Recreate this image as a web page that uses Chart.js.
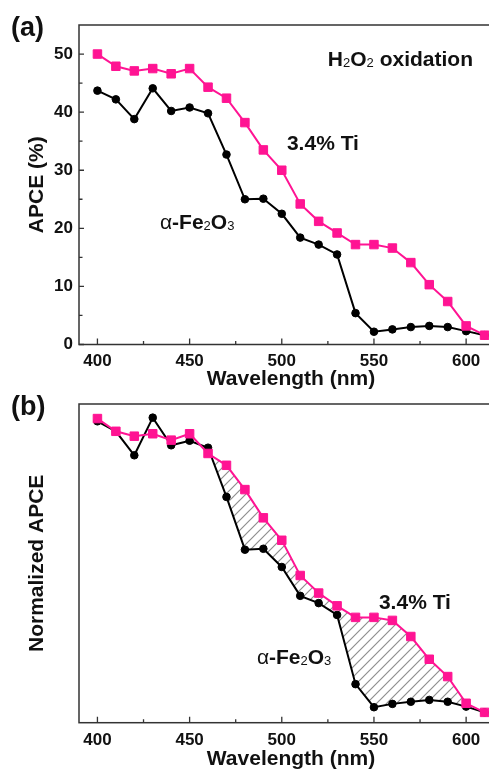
<!DOCTYPE html>
<html>
<head>
<meta charset="utf-8">
<script src="https://cdn.jsdelivr.net/npm/chart.js@4.4.0/dist/chart.umd.min.js"></script>
<style>
body{margin:0;background:#fff;overflow:hidden;width:489px;height:770px;position:relative}
canvas{position:absolute;left:0}
#chartA{top:0}
#chartB{top:390px}
</style>
</head>
<body>
<canvas id="chartA" width="512" height="390"></canvas>
<canvas id="chartB" width="512" height="380"></canvas>
<script>
// wavelength (nm)
const wavelengths = [400,410,420,430,440,450,460,470,480,490,500,510,520,530,540,550,560,570,580,590,600,610];

// (a) APCE in %
const apceTi = [50.0,47.9,47.1,47.5,46.6,47.5,44.3,42.4,38.2,33.5,30.0,24.2,21.2,19.2,17.2,17.2,16.6,14.1,10.3,7.4,3.2,1.6];
const apceFe = [43.7,42.2,38.8,44.1,40.2,40.8,39.8,32.7,25.0,25.1,22.5,18.4,17.2,15.5,5.4,2.2,2.6,3.0,3.2,3.0,2.3,1.6];

// (b) normalized APCE
const normTi = [1.002,0.960,0.944,0.952,0.931,0.952,0.887,0.848,0.768,0.675,0.601,0.485,0.427,0.385,0.347,0.347,0.337,0.284,0.209,0.152,0.064,0.034];
const normFe = [0.993,0.960,0.881,1.005,0.914,0.929,0.906,0.744,0.570,0.573,0.513,0.418,0.394,0.355,0.127,0.051,0.062,0.069,0.075,0.069,0.053,0.034];

// ticks
const xTicks = [400,450,500,550,600];
const xMinorTicks = [425,475,525,575];
const yTicksA = [0,10,20,30,40,50];
const yMinorTicksA = [5,15,25,35,45];

// hatched range in (b)
const hatchFrom = 460;
const hatchTo = 600;

const PINK = 'rgb(255,20,147)';
const FONT = '"Liberation Sans", Arial, Helvetica, sans-serif';

// text labels: [x, y] in data units, parts: b = bold, s = subscript, r = regular
const labelsA = [
  {x: 525, y: 48.0, parts: [['H','b'],['2','s'],['O','b'],['2','s'],[' oxidation','b']]},
  {x: 502.8, y: 33.4, parts: [['3.4% Ti','b']]},
  {x: 433.9, y: 19.8, parts: [['\u03b1','r'],['-Fe','b'],['2','s'],['O','b'],['3','s']]}
];
const labelsB = [
  {x: 552.7, y: 0.375, parts: [['3.4% Ti','b']]},
  {x: 486.5, y: 0.194, parts: [['\u03b1','r'],['-Fe','b'],['2','s'],['O','b'],['3','s']]}
];

function toPoints(ys) {
  return wavelengths.map((w, i) => ({x: w, y: ys[i]}));
}

function makeHatch() {
  const s = 10;
  const c = document.createElement('canvas');
  c.width = s; c.height = s;
  const g = c.getContext('2d');
  g.strokeStyle = '#8f8f8f';
  g.lineWidth = 1.2;
  g.beginPath();
  g.moveTo(0, s); g.lineTo(s, 0);
  g.moveTo(-2, 2); g.lineTo(2, -2);
  g.moveTo(s - 2, s + 2); g.lineTo(s + 2, s - 2);
  g.stroke();
  return g.createPattern(c, 'repeat');
}

function drawRich(ctx, x, y, parts, size) {
  let cx = x;
  ctx.textBaseline = 'alphabetic';
  ctx.textAlign = 'left';
  parts.forEach(([txt, st]) => {
    const sub = st === 's';
    const fs = sub ? Math.round(size * 0.64) : size;
    const weight = st === 'b' ? 'bold ' : '';
    ctx.font = weight + fs + 'px ' + FONT;
    ctx.fillText(txt, cx, sub ? y + 1 : y);
    cx += ctx.measureText(txt).width;
  });
}

// frame, inward ticks, text labels
const decor = {
  id: 'decor',
  beforeDatasetsDraw(chart, args, o) {
    const ctx = chart.ctx;
    const a = chart.chartArea;
    const xs = chart.scales.x, ys = chart.scales.y;
    ctx.save();
    ctx.strokeStyle = '#333';
    ctx.lineWidth = 1.5;
    ctx.strokeRect(a.left, a.top, a.right - a.left, a.bottom - a.top);
    ctx.lineWidth = 1.3;
    ctx.beginPath();
    xTicks.forEach(v => { const p = xs.getPixelForValue(v); ctx.moveTo(p, a.bottom); ctx.lineTo(p, a.bottom - 6); });
    xMinorTicks.forEach(v => { const p = xs.getPixelForValue(v); ctx.moveTo(p, a.bottom); ctx.lineTo(p, a.bottom - 3.5); });
    (o.yTicks || []).forEach(v => { const p = ys.getPixelForValue(v); ctx.moveTo(a.left, p); ctx.lineTo(a.left + 5, p); });
    (o.yMinor || []).forEach(v => { const p = ys.getPixelForValue(v); ctx.moveTo(a.left, p); ctx.lineTo(a.left + 3.5, p); });
    ctx.stroke();
    ctx.restore();
  },
  afterDatasetsDraw(chart, args, o) {
    const ctx = chart.ctx;
    const xs = chart.scales.x, ys = chart.scales.y;
    ctx.save();
    ctx.fillStyle = '#111';
    (o.labels || []).forEach(l => {
      drawRich(ctx, xs.getPixelForValue(l.x), ys.getPixelForValue(l.y), l.parts, 21);
    });
    ctx.font = 'bold 27px ' + FONT;
    ctx.fillText(o.panel, 11, o.panelY);
    ctx.restore();
  }
};

function lineSet(ys, color, style, radius) {
  return {
    data: toPoints(ys),
    borderColor: color,
    backgroundColor: color,
    borderWidth: 2,
    pointStyle: style,
    pointRadius: radius,
    pointBorderWidth: 1,
    tension: 0,
    fill: false
  };
}

function makeOptions(cfg) {
  return {
    responsive: false,
    animation: false,
    events: [],
    layout: {padding: {top: cfg.padTop, right: 9, bottom: 0, left: 0}},
    plugins: {
      legend: {display: false},
      tooltip: {enabled: false},
      decor: cfg.decor
    },
    scales: {
      x: {
        type: 'linear', min: 390, max: 620,
        afterBuildTicks: s => { s.ticks = xTicks.map(v => ({value: v})); },
        afterFit: s => { s.height = cfg.xHeight; },
        grid: {display: false, drawTicks: false},
        border: {display: false},
        ticks: {color: '#111', padding: 7, font: {family: FONT, size: 17, weight: 'bold'}},
        title: {display: true, text: 'Wavelength (nm)', color: '#111', padding: 0,
                font: {family: FONT, size: 21, weight: 'bold', lineHeight: 1.0}}
      },
      y: {
        min: cfg.yMin, max: cfg.yMax,
        afterBuildTicks: s => { s.ticks = cfg.yTicks.map(v => ({value: v})); },
        afterFit: s => { s.width = 79; },
        grid: {display: false, drawTicks: false},
        border: {display: false},
        ticks: {display: cfg.yTicks.length > 0, color: '#111', padding: 6,
                font: {family: FONT, size: 17, weight: 'bold'}},
        title: {display: true, text: cfg.yTitle, color: '#111', padding: {top: 25, bottom: 0},
                font: {family: FONT, size: 21, weight: 'bold'}}
      }
    }
  };
}

new Chart(document.getElementById('chartA'), {
  type: 'line',
  data: {
    datasets: [
      lineSet(apceTi, PINK, 'rect', 6),
      lineSet(apceFe, '#000', 'circle', 3.8)
    ]
  },
  options: makeOptions({
    padTop: 25, xHeight: 45.5, yMin: 0, yMax: 55, yTicks: yTicksA,
    yTitle: 'APCE (%)',
    decor: {yTicks: yTicksA, yMinor: yMinorTicksA, labels: labelsA, panel: '(a)', panelY: 36}
  }),
  plugins: [decor]
});

const hatchPoints = toPoints(normTi).filter(p => p.x >= hatchFrom && p.x <= hatchTo);

new Chart(document.getElementById('chartB'), {
  type: 'line',
  data: {
    datasets: [
      lineSet(normTi, PINK, 'rect', 6),
      lineSet(normFe, '#000', 'circle', 3.8),
      {
        data: hatchPoints,
        borderWidth: 0,
        borderColor: 'rgba(0,0,0,0)',
        pointRadius: 0,
        tension: 0,
        fill: {target: 1, above: makeHatch(), below: 'rgba(0,0,0,0)'}
      }
    ]
  },
  options: makeOptions({
    padTop: 14, xHeight: 47.3, yMin: 0, yMax: 1.05, yTicks: [],
    yTitle: 'Normalized APCE',
    decor: {yTicks: [], yMinor: [], labels: labelsB, panel: '(b)', panelY: 25}
  }),
  plugins: [decor]
});
</script>
</body>
</html>
